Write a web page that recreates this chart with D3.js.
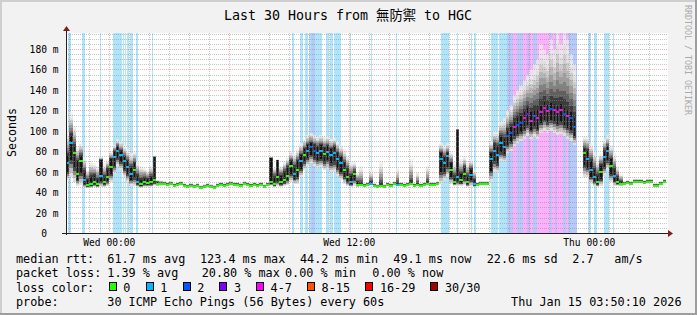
<!DOCTYPE html>
<html>
<head>
<meta charset="utf-8">
<script src="https://cdn.jsdelivr.net/npm/d3@7/dist/d3.min.js"></script>
<style>
body { margin: 0; background: #f2f2f2; }
svg text { font-family: "DejaVu Sans Mono", "Noto Sans CJK TC", monospace; white-space: pre; }
</style>
</head>
<body>
<svg id="chart" width="697" height="315"></svg>
<script>

/////////////////////////////////
// DATA
//////////////////////////////////

var startTime = new Date(2026, 0, 13, 21, 50, 10);
var endTime = new Date(2026, 0, 15, 3, 50, 10);
var stepMin = 10;

// median rtt per 10 min step (ms), null = no data
var medianMs = [
  68, 88, 78, 58, 70, 52, 47, 48, 50, 48,
  56, 50, 55, 65, 74, 80, 76, 70, 65, 58,
  62, 50, 48, 50, 49, 50, 52, 48, 48, 48,
  47, 48, 46, 47, 48, 46, 45, 46, 45, 46,
  44, 45, 46, 45, 44, 46, 47, 46, 47, 48,
  47, 47, 46, 48, 47, 46, 47, 46, 47, 45,
  47, 50, 48, 55, 50, 52, 56, 66, 58, 62,
  70, 76, 80, 84, 80, 78, 80, 77, 79, 76,
  78, 72, 68, 62, 55, 50, 58, 47, 47, 46,
  47, 48, 46, 45, 46, 45, 47, 46, 48, 47,
  47, 46, 47, 48, 46, 47, 46, 47, 48, 47,
  47, 48, 72, 68, 75, 62, 50, 55, 52, 58,
  50, 57, 48, 47, 48, 48, 48, 72, 80, 76,
  88, 84, 95, 98, 104, 106, 108, 112, 116, 110,
  114, 112, 118, 122, 119, 121, 120, 118, 120, 116,
  114, 112, 104, null, null, 78, 72, 62, 55, 50,
  60, 74, 80, 66, 56, 50, 48, 48, 49, 48,
  50, 50, 50, 49, 50, 50, 46, 46, 48, 50
];

// lowest ping of the smoke (ms)
var smokeLow = [
  52, 55, 50, 46, 47, 44, 44, 44, 45, 44,
  45, 45, 46, 50, 58, 66, 62, 55, 50, 46,
  46, 45, 44, 45, 45, 45, 46, 46, 47, 47,
  46, 47, 45, 46, 47, 45, 44, 45, 44, 45,
  43, 44, 45, 44, 43, 45, 46, 45, 46, 47,
  46, 46, 45, 47, 46, 45, 46, 45, 46, 44,
  46, 46, 45, 46, 45, 46, 47, 50, 48, 48,
  55, 62, 66, 68, 66, 64, 65, 62, 63, 60,
  60, 56, 52, 48, 46, 45, 46, 45, 46, 45,
  46, 47, 45, 44, 45, 44, 46, 45, 47, 46,
  46, 45, 46, 47, 45, 46, 45, 46, 47, 46,
  46, 47, 48, 52, 55, 48, 46, 46, 46, 47,
  45, 46, 45, 46, 47, 47, 47, 50, 60, 60,
  70, 70, 78, 80, 85, 88, 90, 92, 95, 92,
  94, 92, 98, 100, 98, 100, 98, 96, 97, 95,
  92, 90, 86, null, null, 55, 55, 48, 46, 45,
  46, 56, 62, 50, 46, 46, 46, 47, 48, 47,
  49, 49, 49, 48, 49, 49, 45, 45, 47, 49
];

// highest ping of the smoke (ms)
var smokeHigh = [
  100, 118, 105, 85, 88, 75, 62, 70, 68, 66,
  75, 68, 72, 80, 86, 92, 90, 86, 82, 78,
  80, 70, 66, 64, 62, 66, 76, 52, 52, 51,
  50, 51, 49, 50, 51, 49, 48, 49, 48, 49,
  47, 48, 49, 48, 47, 49, 50, 49, 50, 51,
  50, 50, 49, 51, 50, 49, 50, 49, 50, 48,
  50, 75, 65, 72, 66, 70, 74, 80, 78, 82,
  88, 92, 96, 98, 96, 95, 96, 94, 95, 92,
  93, 90, 86, 82, 76, 70, 70, 60, 66, 49,
  50, 62, 49, 48, 70, 48, 50, 49, 51, 64,
  50, 49, 50, 72, 49, 60, 49, 50, 66, 50,
  50, 51, 88, 86, 88, 80, 70, 102, 72, 75,
  70, 72, 62, 50, 51, 51, 51, 90, 100, 100,
  110, 112, 120, 125, 135, 140, 145, 150, 155, 160,
  165, 170, 185, 180, 175, 190, 180, 200, 185, 200,
  190, 175, 165, null, null, 95, 95, 88, 80, 72,
  78, 92, 96, 86, 78, 66, 58, 51, 52, 51,
  53, 53, 53, 52, 53, 53, 49, 49, 51, 53
];

// top of the dark core of the smoke (ms)
var darkTop = [
  75, 95, 85, 70, 75, 60, 52, 55, 56, 52,
  71, 55, 62, 72, 80, 84, 80, 74, 70, 64,
  68, 56, 52, 54, 53, 55, 74, 50, 49, 49,
  48, 49, 47, 48, 49, 47, 46, 47, 46, 47,
  45, 46, 47, 46, 45, 47, 48, 47, 48, 49,
  48, 48, 47, 49, 48, 47, 48, 47, 48, 46,
  48, 73, 55, 71, 56, 60, 64, 70, 65, 70,
  76, 82, 86, 88, 86, 84, 86, 83, 85, 82,
  84, 78, 74, 68, 62, 56, 60, 50, 48, 47,
  48, 49, 47, 46, 47, 46, 48, 47, 49, 48,
  48, 47, 48, 49, 47, 48, 47, 48, 49, 48,
  48, 49, 78, 74, 78, 68, 55, 101, 58, 64,
  55, 62, 52, 48, 49, 49, 49, 78, 86, 84,
  94, 92, 100, 104, 110, 112, 114, 118, 122, 118,
  120, 120, 124, 128, 125, 127, 126, 124, 126, 122,
  120, 118, 112, null, null, 82, 80, 70, 62, 56,
  66, 80, 84, 72, 62, 54, 50, 49, 50, 49,
  51, 51, 51, 50, 51, 51, 47, 47, 49, 51
];

// packet loss periods: [start minute, end minute, loss level]
var lossBands = [
  [6, 15, 1], [48, 57, 1], [102, 106, 1], [141, 168, 1], [170, 173, 1], [176, 179, 1],
  [182, 189, 1], [192, 201, 1], [210, 216, 1], [258, 261, 1],
  [678, 684, 1], [702, 711, 1], [717, 726, 1], [729, 735, 1], [735, 747, 2], [747, 768, 1],
  [780, 789, 1], [792, 801, 1], [805, 825, 1],
  [852, 855, 1], [915, 919, 1], [990, 994, 1], [1125, 1149, 1], [1173, 1177, 1],
  [1215, 1219, 1], [1224, 1230, 1], [1275, 1297, 1], [1300, 1322, 1],
  [1323, 1341, 2], [1341, 1353, 4], [1353, 1371, 2], [1371, 1383, 4], [1383, 1392, 3],
  [1392, 1401, 4], [1401, 1413, 2], [1413, 1452, 4], [1452, 1458, 2], [1458, 1467, 4],
  [1467, 1473, 3], [1473, 1491, 4], [1491, 1500, 2], [1500, 1506, 4], [1506, 1533, 2],
  [1566, 1574, 1], [1584, 1592, 1], [1614, 1629, 1], [1640, 1644, 1]
];

var yTicks = [0, 20, 40, 60, 80, 100, 120, 140, 160, 180];

var lossLabels = ["0", "1", "2", "3", "4-7", "8-15", "16-29", "30/30"];
var lossColors = ["#26ff00", "#00b8ff", "#0059ff", "#7e00ff", "#ff00ff", "#ff5500", "#ff0000", "#a10000"];
var lossBgColors = [null, "#aee5fa", "#b6c9fb", "#cdb6fb", "#fbb0fb"];

var title = "Last 30 Hours from 無防禦 to HGC";
var rttStats = ["61.7 ms avg", "123.4 ms max", "44.2 ms min", "49.1 ms now", "22.6 ms sd", "2.7", "am/s"];
var lossStats = ["1.39 % avg", "20.80 % max", "0.00 % min", "0.00 % now"];
var probeText = "30 ICMP Echo Pings (56 Bytes) every 60s";
var stampText = "Thu Jan 15 03:50:10 2026";


/////////////////////////////////
// SCALES
//////////////////////////////////

var plotL = 66, plotR = 666, plotT = 33, plotB = 233;

var svg = d3.select("#chart");

var x = d3.scaleTime().domain([startTime, endTime]).range([plotL, plotR]);
var y = d3.scaleLinear().domain([0, 195.6]).range([plotB, plotT]);

function px(v) { return Math.round(v); }

// frame
svg.append("rect").attr("width", 697).attr("height", 315).attr("fill", "#f2f2f2");
svg.append("rect").attr("x", 0).attr("y", 0).attr("width", 697).attr("height", 2).attr("fill", "#cfcfcf");
svg.append("rect").attr("x", 0).attr("y", 0).attr("width", 2).attr("height", 315).attr("fill", "#cfcfcf");
svg.append("rect").attr("x", 0).attr("y", 313).attr("width", 697).attr("height", 2).attr("fill", "#9e9e9e");
svg.append("rect").attr("x", 695).attr("y", 0).attr("width", 2).attr("height", 315).attr("fill", "#9e9e9e");

svg.append("defs").append("clipPath").attr("id", "plotClip")
  .append("rect").attr("x", plotL).attr("y", plotT).attr("width", plotR - plotL + 2).attr("height", plotB - plotT);

svg.append("rect").attr("x", plotL).attr("y", plotT).attr("width", plotR - plotL + 2).attr("height", plotB - plotT)
  .attr("fill", "#ffffff");

var plot = svg.append("g").attr("clip-path", "url(#plotClip)").attr("shape-rendering", "crispEdges");

/////////////////////////////////
// LOSS BACKGROUND
//////////////////////////////////

function minuteTime(m) { return new Date(startTime.getTime() + m * 60000); }

plot.append("g").selectAll("rect").data(lossBands).enter().append("rect")
  .attr("x", function(d) { return px(x(minuteTime(d[0]))); })
  .attr("width", function(d) { return Math.max(1, px(x(minuteTime(d[1]))) - px(x(minuteTime(d[0])))); })
  .attr("y", plotT)
  .attr("height", plotB - plotT)
  .attr("fill", function(d) { return lossBgColors[d[2]]; });

/////////////////////////////////
// SMOKE
//////////////////////////////////

var bins = medianMs.map(function(m, i) {
  var t0 = minuteTime(i * stepMin), t1 = minuteTime((i + 1) * stepMin);
  var x0 = px(x(t0)), x1 = px(x(t1));
  var mid = (i + 0.5) * stepMin;
  var lvl = 0;
  lossBands.forEach(function(b) {
    if (mid >= b[0] - 1 && mid <= b[1] + 1 && b[2] > lvl) lvl = b[2];
  });
  return { x: x0, w: x1 - x0, med: m, lo: smokeLow[i], hi: smokeHigh[i], dk: darkTop[i], loss: lvl };
}).filter(function(d) { return d.med !== null; });

var smoke = plot.append("g");
var upN = 9, downN = 4;
var upColor = d3.interpolateRgb("#eeeeee", "#3c3c3c");
var downColor = d3.interpolateRgb("#e0e0e0", "#4a4a4a");

bins.forEach(function(d) {
  var i, tp, yA, yB;
  // upper smoke
  for (i = 0; i < upN; i++) {
    tp = d.dk + (d.hi - d.dk) * (1 - i / upN);
    yA = y(tp); yB = y(d.dk);
    smoke.append("rect").attr("x", d.x).attr("width", d.w)
      .attr("y", yA).attr("height", Math.max(0, yB - yA))
      .attr("fill", upColor(Math.pow(i / (upN - 1), 1.7)))
      .attr("fill-opacity", i < 3 ? 0.7 : 1);
  }
  // lower smoke
  var cb = d.med - (d.med - d.lo) * 0.5;
  for (i = 0; i < downN; i++) {
    var bot = cb - (cb - d.lo) * (1 - i / downN);
    yA = y(cb); yB = y(bot);
    smoke.append("rect").attr("x", d.x).attr("width", d.w)
      .attr("y", yA).attr("height", Math.max(0, yB - yA))
      .attr("fill", downColor(Math.pow(i / (downN - 1), 1.4)));
  }
  // dark core, with a thin black stroke down its middle
  yA = y(d.dk); yB = y(cb);
  smoke.append("rect").attr("x", d.x).attr("width", d.w)
    .attr("y", yA).attr("height", Math.max(0, yB - yA))
    .attr("fill", "#404040");
  smoke.append("rect").attr("x", d.x + 1).attr("width", Math.max(1, d.w - 2))
    .attr("y", yA).attr("height", Math.max(0, yB - yA))
    .attr("fill", "#141414");
});

/////////////////////////////////
// GRID
//////////////////////////////////

var grid = svg.append("g").attr("shape-rendering", "crispEdges");
var minorY = d3.range(0, 196, 5).filter(function(v) { return v % 20 !== 0; });
var minorColor = "rgba(140,140,140,0.5)", majorColor = "rgba(220,80,80,0.42)";

grid.selectAll(".hmin").data(minorY).enter().append("line")
  .attr("x1", plotL).attr("x2", plotR + 2)
  .attr("y1", function(d) { return px(y(d)) + 0.5; })
  .attr("y2", function(d) { return px(y(d)) + 0.5; })
  .attr("stroke", minorColor).attr("stroke-dasharray", "1,1");

var hours = d3.timeHour.every(1).range(startTime, endTime);
grid.selectAll(".vmin").data(hours.filter(function(h) { return h.getHours() % 6 !== 0; })).enter().append("line")
  .attr("x1", function(d) { return px(x(d)) + 0.5; })
  .attr("x2", function(d) { return px(x(d)) + 0.5; })
  .attr("y1", plotT).attr("y2", plotB)
  .attr("stroke", minorColor).attr("stroke-dasharray", "1,1");

grid.selectAll(".hmaj").data(yTicks.slice(1)).enter().append("line")
  .attr("x1", plotL).attr("x2", plotR + 2)
  .attr("y1", function(d) { return px(y(d)) + 0.5; })
  .attr("y2", function(d) { return px(y(d)) + 0.5; })
  .attr("stroke", majorColor).attr("stroke-dasharray", "1,1");

grid.selectAll(".vmaj").data(hours.filter(function(h) { return h.getHours() % 6 === 0; })).enter().append("line")
  .attr("x1", function(d) { return px(x(d)) + 0.5; })
  .attr("x2", function(d) { return px(x(d)) + 0.5; })
  .attr("y1", plotT).attr("y2", plotB)
  .attr("stroke", majorColor).attr("stroke-dasharray", "1,1");

/////////////////////////////////
// MEDIAN
//////////////////////////////////

plot.append("g").selectAll("rect").data(bins).enter().append("rect")
  .attr("x", function(d) { return d.x; })
  .attr("width", function(d) { return d.w; })
  .attr("y", function(d) { return px(y(d.med)) - 1; })
  .attr("height", 2)
  .attr("fill", function(d) { return lossColors[d.loss]; });

/////////////////////////////////
// AXES
//////////////////////////////////

var axes = svg.append("g").attr("shape-rendering", "crispEdges");
axes.append("line").attr("x1", plotL + 0.5).attr("x2", plotL + 0.5).attr("y1", plotB + 2).attr("y2", plotT - 2)
  .attr("stroke", "#1f1f1f");
axes.append("line").attr("x1", plotL - 4).attr("x2", plotR + 2).attr("y1", plotB + 0.5).attr("y2", plotB + 0.5)
  .attr("stroke", "#1f1f1f");
svg.append("path").attr("d", "M63,31 L70,31 L66.5,26 Z").attr("fill", "#7f1f1f");
svg.append("path").attr("d", "M668,230 L668,237 L673,233.5 Z").attr("fill", "#7f1f1f");

svg.append("g").selectAll("text").data(yTicks).enter().append("text")
  .attr("x", 58.5)
  .attr("y", function(d) { return px(y(d)) + 4; })
  .attr("text-anchor", "end")
  .attr("font-size", "9.6px")
  .attr("fill", "#000")
  .text(function(d) { return d === 0 ? "0  " : d + " m"; });

var labelHours = hours.filter(function(h) { return h.getHours() % 12 === 0; });
svg.append("g").selectAll("text").data(labelHours).enter().append("text")
  .attr("x", function(d) { return x(d); })
  .attr("y", 245.5)
  .attr("text-anchor", "middle")
  .attr("font-size", "9.6px")
  .attr("fill", "#000")
  .text(d3.timeFormat("%a %H:%M"));

/////////////////////////////////
// TITLES
//////////////////////////////////

svg.append("text").attr("x", 348).attr("y", 19.5).attr("text-anchor", "middle")
  .attr("font-size", "13.3px").attr("fill", "#000").text(title);

svg.append("text").attr("transform", "translate(15.5,132.5) rotate(-90)").attr("text-anchor", "middle")
  .attr("font-size", "11.6px").attr("fill", "#000").text("Seconds");

svg.append("text").attr("transform", "translate(685,5) rotate(90)").attr("text-anchor", "start")
  .attr("font-size", "8.3px").attr("fill", "#aaaaaa").text("RRDTOOL / TOBI OETIKER");

/////////////////////////////////
// LEGEND
//////////////////////////////////

var leg = svg.append("g").attr("font-size", "11.8px").attr("fill", "#000");
var rowY = [263, 277.3, 291.5, 305.7];

function put(txt, xx, yy) { return leg.append("text").attr("x", xx).attr("y", yy).text(txt); }

put("median rtt:", 16, rowY[0]);
[107.3, 200, 300, 393.3, 486.7, 572.3, 614.3].forEach(function(xx, i) { put(rttStats[i], xx, rowY[0]); });

put("packet loss:", 16, rowY[1]);
[107.3, 201.7, 285, 372.3].forEach(function(xx, i) { put(lossStats[i], xx, rowY[1]); });

put("loss color:", 16, rowY[2]);
var boxX = [108.7, 145.7, 182.7, 219.3, 256, 307, 365.3, 430.3];
lossLabels.forEach(function(l, i) {
  leg.append("rect").attr("x", px(boxX[i]) + 0.5).attr("y", 282.5).attr("width", 7).attr("height", 8)
    .attr("fill", lossColors[i]).attr("stroke", "#000").attr("stroke-width", 1);
  put(l, boxX[i] + 14.6, rowY[2]);
});

put("probe:", 16, rowY[3]);
put(probeText, 107.3, rowY[3]);
put(stampText, 681.5, rowY[3]).attr("text-anchor", "end");

</script>
</body>
</html>
